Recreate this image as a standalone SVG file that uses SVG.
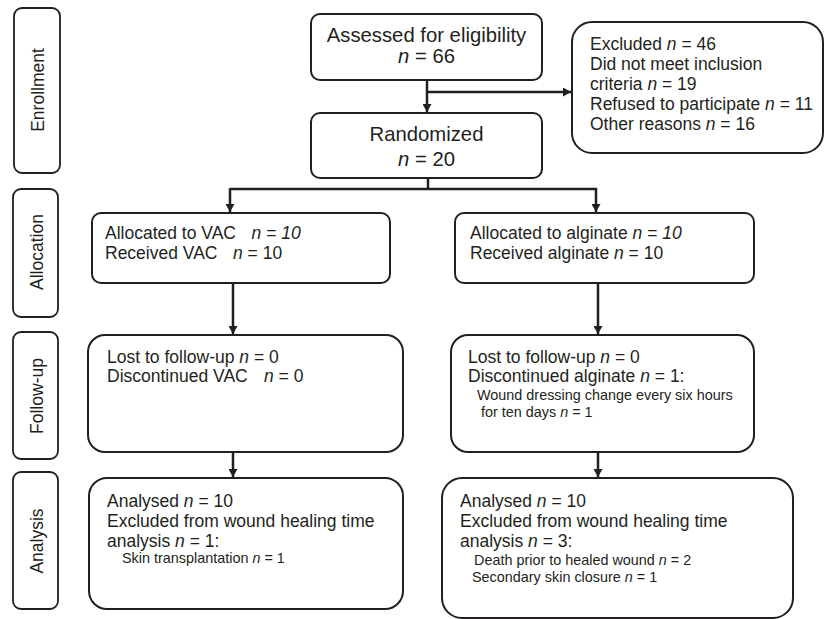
<svg xmlns="http://www.w3.org/2000/svg" width="825" height="619" viewBox="0 0 825 619">
<defs>
<style>
.box{fill:#fff;stroke:#231f20;stroke-width:2}
.side{fill:#fff;stroke:#231f20;stroke-width:1.8}
.t{font-family:"Liberation Sans",Arial,sans-serif;font-size:17.5px;fill:#231f20}
.big{font-family:"Liberation Sans",Arial,sans-serif;font-size:20.3px;fill:#231f20}
.s{font-family:"Liberation Sans",Arial,sans-serif;font-size:14.4px;fill:#231f20}
.i{font-style:italic}
.c{fill:none;stroke:#231f20;stroke-width:2.5}
</style>
<marker id="ah" markerUnits="userSpaceOnUse" markerWidth="9" markerHeight="9" refX="8" refY="4.5" orient="auto">
<path d="M0,0 L8,4.5 L0,9 z" fill="#231f20"/>
</marker>
</defs>

<g id="side-enrollment">
<rect class="side" x="14" y="8" width="46" height="165" rx="8"/>
<text class="t" transform="translate(43.5,90) rotate(-90)" text-anchor="middle">Enrollment</text>
</g>
<g id="side-allocation">
<rect class="side" x="13" y="189" width="45" height="128" rx="8"/>
<text class="t" transform="translate(43,252) rotate(-90)" text-anchor="middle">Allocation</text>
</g>
<g id="side-followup">
<rect class="side" x="13" y="332" width="45" height="127" rx="8"/>
<text class="t" transform="translate(43,396) rotate(-90)" text-anchor="middle">Follow-up</text>
</g>
<g id="side-analysis">
<rect class="side" x="13" y="472" width="45" height="137" rx="8"/>
<text class="t" transform="translate(43,541) rotate(-90)" text-anchor="middle">Analysis</text>
</g>

<g id="connectors">
<path class="c" d="M427,80 V112" marker-end="url(#ah)"/>
<path class="c" d="M427,92 H571" marker-end="url(#ah)"/>
<path class="c" d="M428,178 V189"/>
<path class="c" d="M230,189 H597"/>
<path class="c" d="M230,188 V212" marker-end="url(#ah)"/>
<path class="c" d="M596,188 V212" marker-end="url(#ah)"/>
<path class="c" d="M233,283 V334" marker-end="url(#ah)"/>
<path class="c" d="M598,283 V334" marker-end="url(#ah)"/>
<path class="c" d="M233,452 V477" marker-end="url(#ah)"/>
<path class="c" d="M598,452 V477" marker-end="url(#ah)"/>
</g>

<g id="assessed">
<rect class="box" x="311" y="14" width="231" height="66" rx="9"/>
<text class="big" x="426.5" y="42" text-anchor="middle">Assessed for eligibility</text>
<text class="big" x="426.5" y="63" text-anchor="middle"><tspan class="i">n</tspan> = 66</text>
</g>

<g id="excluded">
<rect class="box" x="572" y="22" width="251" height="131" rx="20"/>
<text class="t" x="590" y="50">Excluded <tspan class="i">n</tspan> = 46</text>
<text class="t" x="590" y="70">Did not meet inclusion</text>
<text class="t" x="590" y="90">criteria <tspan class="i">n</tspan> = 19</text>
<text class="t" x="590" y="110">Refused to participate <tspan class="i">n</tspan> = 11</text>
<text class="t" x="590" y="130">Other reasons <tspan class="i">n</tspan> = 16</text>
</g>

<g id="randomized">
<rect class="box" x="311" y="113" width="231" height="65" rx="9"/>
<text class="big" x="426.5" y="141" text-anchor="middle">Randomized</text>
<text class="big" x="426.5" y="166" text-anchor="middle"><tspan class="i">n</tspan> = 20</text>
</g>

<g id="alloc-vac">
<rect class="box" x="92" y="213" width="298" height="70" rx="9"/>
<text class="t" x="105" y="239">Allocated to VAC<tspan class="i" x="251.5">n = 10</tspan></text>
<text class="t" x="105" y="259">Received VAC<tspan class="i" x="233">n</tspan> = 10</text>
</g>

<g id="alloc-alginate">
<rect class="box" x="455" y="213" width="299" height="70" rx="9"/>
<text class="t" x="470" y="239">Allocated to alginate <tspan class="i">n = 10</tspan></text>
<text class="t" x="470" y="259">Received alginate <tspan class="i">n</tspan> = 10</text>
</g>

<g id="followup-vac">
<rect class="box" x="88" y="335" width="315" height="117" rx="17"/>
<text class="t" x="107" y="363">Lost to follow-up <tspan class="i">n</tspan> = 0</text>
<text class="t" x="107" y="382">Discontinued VAC<tspan class="i" x="264">n</tspan> = 0</text>
</g>

<g id="followup-alginate">
<rect class="box" x="451" y="335" width="303" height="117" rx="17"/>
<text class="t" x="468" y="363">Lost to follow-up <tspan class="i">n</tspan> = 0</text>
<text class="t" x="468" y="382">Discontinued alginate <tspan class="i">n</tspan> = 1:</text>
<text class="s" x="477" y="400">Wound dressing change every six hours</text>
<text class="s" x="481" y="417">for ten days <tspan class="i">n</tspan> = 1</text>
</g>

<g id="analysis-vac">
<rect class="box" x="89" y="478" width="314" height="131" rx="18"/>
<text class="t" x="107" y="507">Analysed <tspan class="i">n</tspan> = 10</text>
<text class="t" x="107" y="527">Excluded from wound healing time</text>
<text class="t" x="107" y="547">analysis <tspan class="i">n</tspan> = 1:</text>
<text class="s" x="122" y="563">Skin transplantation <tspan class="i">n</tspan> = 1</text>
</g>

<g id="analysis-alginate">
<rect class="box" x="442" y="478" width="351" height="140" rx="20"/>
<text class="t" x="460" y="507">Analysed <tspan class="i">n</tspan> = 10</text>
<text class="t" x="460" y="527">Excluded from wound healing time</text>
<text class="t" x="460" y="547">analysis <tspan class="i">n</tspan> = 3:</text>
<text class="s" x="474" y="565">Death prior to healed wound <tspan class="i">n</tspan> = 2</text>
<text class="s" x="472" y="582">Secondary skin closure <tspan class="i">n</tspan> = 1</text>
</g>
</svg>
